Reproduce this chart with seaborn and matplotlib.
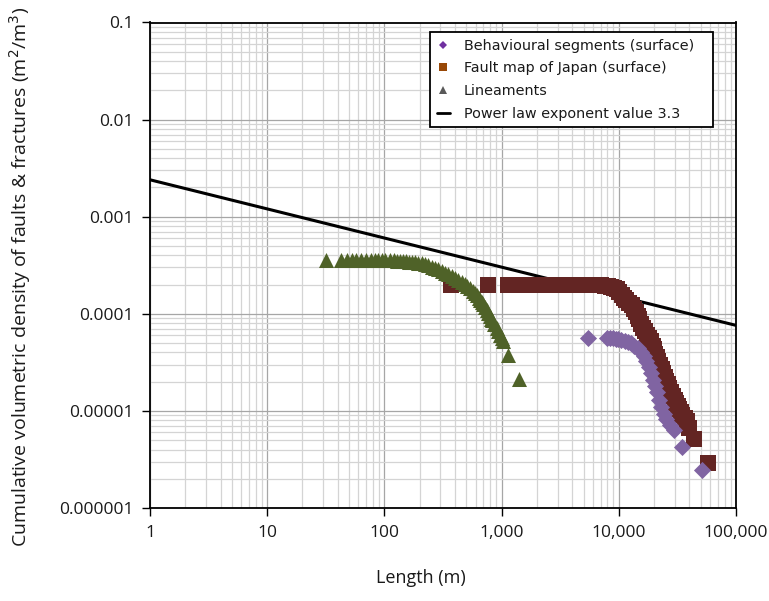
import matplotlib
matplotlib.use("Agg")
import matplotlib.pyplot as plt
from matplotlib.lines import Line2D
from matplotlib.ticker import FixedLocator, LogLocator, NullFormatter
import numpy as np
import pandas as pd
import seaborn as sns

# Behavioural segments (surface): length (m) and cumulative density (m2/m3)
behav_len = [5500, 7900, 8400, 8900, 9400, 9900, 10500, 11200, 12000, 12800,
             13600, 14500, 15400, 16300, 17200, 18000, 18800, 19600, 20400,
             21300, 22200, 23100, 24200, 25500, 27200, 29500, 34400, 50900]
behav_den = [5.6e-5, 5.68e-5, 5.65e-5, 5.6e-5, 5.55e-5, 5.5e-5, 5.42e-5,
             5.3e-5, 5.15e-5, 4.95e-5, 4.7e-5, 4.4e-5, 4.05e-5, 3.65e-5,
             3.25e-5, 2.85e-5, 2.45e-5, 2.1e-5, 1.8e-5, 1.55e-5, 1.3e-5,
             1.1e-5, 9.4e-6, 8.2e-6, 7.2e-6, 6.4e-6, 4.28e-6, 2.46e-6]

# Fault map of Japan (surface)
japan_len = [372, 771, 1130, 1270, 1420, 1600, 1790, 2010, 2260, 2530, 2840,
             3190, 3580, 4020, 4510, 5060, 5680, 6370, 7000, 7600, 8100,
             8600, 9100, 9600, 10100, 10600, 11100, 11600, 12200, 12900,
             13500, 14000, 14500, 15000, 15600, 16200, 16800, 17500, 18100,
             18800, 19400, 20000, 20500, 21000, 21700, 22500, 23200, 24000,
             24700, 25500, 26200, 27000, 28000, 29000, 30000, 30800, 31800,
             32800, 33800, 34800, 36400, 38000, 39500, 43800, 58000]
japan_den = [1.98e-4, 1.98e-4, 2.0e-4, 2.0e-4, 2.0e-4, 2.0e-4, 2.0e-4,
             2.0e-4, 2.0e-4, 2.0e-4, 2.0e-4, 2.0e-4, 2.0e-4, 2.0e-4, 2.0e-4,
             2.0e-4, 1.99e-4, 1.98e-4, 1.96e-4, 1.94e-4, 1.92e-4, 1.89e-4,
             1.85e-4, 1.78e-4, 1.68e-4, 1.56e-4, 1.47e-4, 1.38e-4, 1.3e-4,
             1.23e-4, 1.13e-4, 1.05e-4, 9.6e-5, 8.8e-5, 7.9e-5, 7.1e-5,
             6.6e-5, 6.1e-5, 5.6e-5, 5.2e-5, 4.7e-5, 4.3e-5, 3.9e-5, 3.6e-5,
             3.3e-5, 3.0e-5, 2.7e-5, 2.44e-5, 2.25e-5, 2.05e-5, 1.88e-5,
             1.71e-5, 1.57e-5, 1.43e-5, 1.3e-5, 1.2e-5, 1.12e-5, 1.05e-5,
             9.8e-6, 9.1e-6, 8.4e-6, 7.8e-6, 6.6e-6, 5.1e-6, 2.93e-6]

# Lineaments
linea_len = [32, 43, 48, 53, 57, 63, 69, 77, 83, 89, 95, 101, 112, 120, 128,
             136, 144, 152, 161, 171, 182, 195, 208, 222, 237, 253, 270, 288,
             308, 330, 352, 375, 400, 428, 457, 485, 510, 537, 565, 590, 612,
             640, 660, 676, 700, 722, 746, 770, 790, 810, 823, 860, 908, 935,
             969, 1000, 1034, 1128, 1408]
linea_den = [3.62e-4, 3.61e-4, 3.61e-4, 3.6e-4, 3.6e-4, 3.6e-4, 3.59e-4,
             3.59e-4, 3.58e-4, 3.58e-4, 3.57e-4, 3.57e-4, 3.56e-4, 3.55e-4,
             3.53e-4, 3.51e-4, 3.49e-4, 3.47e-4, 3.45e-4, 3.43e-4, 3.39e-4,
             3.36e-4, 3.31e-4, 3.25e-4, 3.15e-4, 3.06e-4, 2.97e-4, 2.87e-4,
             2.76e-4, 2.65e-4, 2.56e-4, 2.47e-4, 2.36e-4, 2.25e-4, 2.14e-4,
             2.02e-4, 1.92e-4, 1.83e-4, 1.72e-4, 1.63e-4, 1.56e-4, 1.45e-4,
             1.38e-4, 1.33e-4, 1.25e-4, 1.17e-4, 1.09e-4, 1.01e-4, 9.4e-5,
             8.9e-5, 8.6e-5, 7.8e-5, 7.1e-5, 6.6e-5, 6.05e-5, 5.6e-5, 5.2e-5,
             3.77e-5, 2.13e-5]

# Power law reference line (exponent value 3.3)
power_len = [1, 100000]
power_den = [2.4e-3, 7.6e-5]

x_ticks = [1, 10, 100, 1000, 10000, 100000]
x_tick_labels = ["1", "10", "100", "1,000", "10,000", "100,000"]
y_ticks = [1e-6, 1e-5, 1e-4, 1e-3, 1e-2, 1e-1]
y_tick_labels = ["0.000001", "0.00001", "0.0001", "0.001", "0.01", "0.1"]

labels = ["Behavioural segments (surface)", "Fault map of Japan (surface)",
          "Lineaments", "Power law exponent value 3.3"]

sns.set_theme(style="white")
plt.rcParams["font.family"] = ["Open Sans", "DejaVu Sans"]

fig = plt.figure(figsize=(7.69, 6.01), dpi=100)
ax = fig.add_axes([150 / 769, 1 - 508 / 601, 586 / 769, 485.5 / 601])
ax.set_xscale("log")
ax.set_yscale("log")
ax.set_xlim(1, 100000)
ax.set_ylim(1e-6, 0.1)

power_df = pd.DataFrame({"len": power_len, "den": power_den})
sns.lineplot(data=power_df, x="len", y="den", ax=ax, color="black",
             linewidth=2.2, zorder=2, legend=False)

japan_df = pd.DataFrame({"len": japan_len, "den": japan_den})
sns.scatterplot(data=japan_df, x="len", y="den", ax=ax, marker="s", s=130,
                color="#632523", linewidth=0, zorder=3, legend=False)

behav_df = pd.DataFrame({"len": behav_len, "den": behav_den})
sns.scatterplot(data=behav_df, x="len", y="den", ax=ax, marker="D", s=76,
                color="#8064A2", linewidth=0, zorder=4, legend=False)

linea_df = pd.DataFrame({"len": linea_len, "den": linea_den})
sns.scatterplot(data=linea_df, x="len", y="den", ax=ax, marker="^", s=117,
                color="#4F6228", linewidth=0, zorder=5, legend=False)

# grid: darker major lines, lighter minor lines
ax.xaxis.set_minor_locator(LogLocator(base=10, subs=np.arange(2, 10)))
ax.yaxis.set_minor_locator(LogLocator(base=10, subs=np.arange(2, 10)))
ax.xaxis.set_minor_formatter(NullFormatter())
ax.yaxis.set_minor_formatter(NullFormatter())
ax.grid(True, which="major", color="#a6a6a6", linewidth=0.9, zorder=0)
ax.grid(True, which="minor", color="#d4d4d4", linewidth=0.9, zorder=0)
ax.set_axisbelow(True)

ax.xaxis.set_major_locator(FixedLocator(x_ticks))
ax.set_xticklabels(x_tick_labels)
ax.yaxis.set_major_locator(FixedLocator(y_ticks))
ax.set_yticklabels(y_tick_labels)
ax.tick_params(axis="both", which="major", direction="out", length=6,
               width=1, color="black", labelsize=12.5, labelcolor="#1a1a1a",
               pad=6, bottom=True, left=True)
ax.tick_params(axis="both", which="minor", length=0)

for side in ["left", "bottom", "right", "top"]:
    ax.spines[side].set_visible(True)
    ax.spines[side].set_color("black")
    ax.spines[side].set_linewidth(1.3)

ax.set_xlabel("Length (m)", fontsize=13, color="#1a1a1a")
ax.set_ylabel("Cumulative volumetric density of faults & fractures (m$^2$/m$^3$)",
              fontsize=14, color="#1a1a1a")
ax.xaxis.set_label_coords(0.462, -0.125)
ax.yaxis.set_label_coords(-0.199, 0.475)

handles = [
    Line2D([], [], linestyle="none", marker="D", markersize=4.5,
           markerfacecolor="#7030A0", markeredgewidth=0),
    Line2D([], [], linestyle="none", marker="s", markersize=5.5,
           markerfacecolor="#984807", markeredgewidth=0),
    Line2D([], [], linestyle="none", marker="^", markersize=5.5,
           markerfacecolor="#595959", markeredgewidth=0),
    Line2D([], [], color="black", linewidth=2),
]
leg = ax.legend(handles, labels, loc="upper left",
                bbox_to_anchor=(0.478, 0.789, 0.483, 0.191), mode="expand",
                borderaxespad=0, frameon=True, fancybox=False,
                edgecolor="black", framealpha=1, handlelength=0.9,
                handletextpad=1.0, borderpad=0.45, labelspacing=0.6,
                prop={"family": "DejaVu Sans", "size": 10.4})
leg.get_frame().set_linewidth(1.3)
for t in leg.get_texts():
    t.set_color("#1a1a1a")

fig.savefig("out.png", dpi=100)
